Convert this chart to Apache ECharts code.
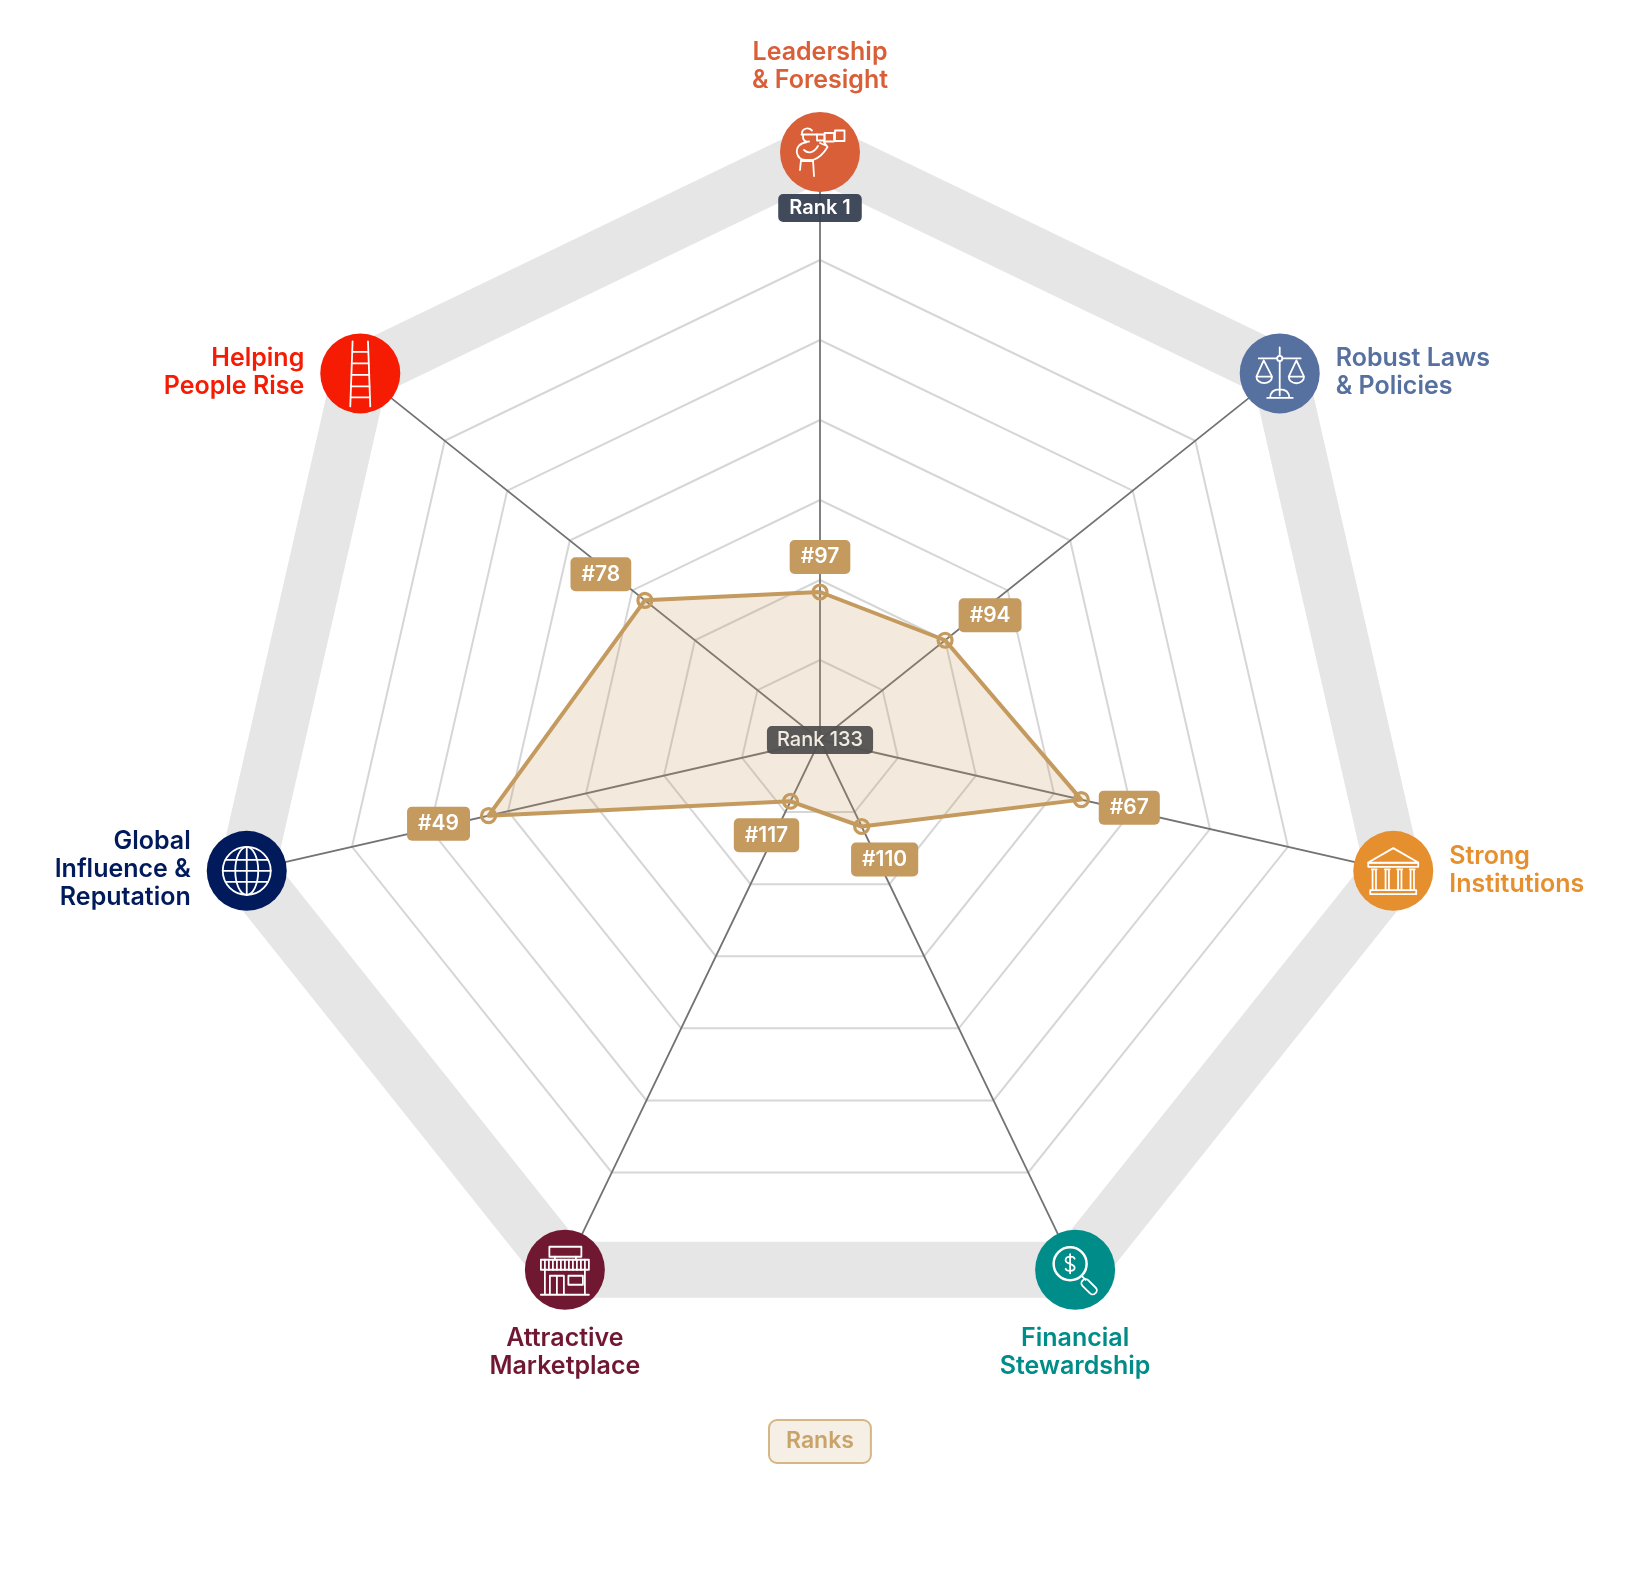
<!DOCTYPE html>
<html>
<head>
<meta charset="utf-8">
<style>html,body{margin:0;padding:0;background:#fff}#chart{width:1641px;height:1580px}</style>
<script src="https://cdn.jsdelivr.net/npm/echarts@6/dist/echarts.min.js"></script>
</head>
<body>
<div id="chart"></div>
<script>
// ---- data ----
const categories = ['Leadership\n& Foresight','Robust Laws\n& Policies','Strong\nInstitutions','Financial\nStewardship','Attractive\nMarketplace','Global\nInfluence &\nReputation','Helping\nPeople Rise'];
const ranks = [97, 94, 67, 110, 117, 49, 78];
const seriesName = 'Ranks';
const bestRank = 1;
const worstRank = 133;
// ---- scale: plotted value = rankOrigin - rank (rank 133 sits next to the centre) ----
const rankOrigin = 134;
const gridMax = 140;
const gridSplits = 7;
const ringValue = 147;
// ---- styles ----
const FONT = 'Inter';
const TAN = '#c49a5e';
const colors = ['#d95f38','#56709f','#e68f2e','#008c88','#701831','#001a5c','#f61c04'];
const nameSides = ['top','right','right','bottom','bottom','left','left'];
const nameDistances = [18,16,16,15,15,16,16];
const nameOffsets = [[0,0],[0,-1],[0,0],[0,0],[0,0],[0,-1],[0,-1]];
const badgeOffsets = [[0,-35],[45,-25],[48,8],[23,33],[-24,34],[-50,8],[-44,-26]];

const S = 'fill="none" stroke="#fff" stroke-width="1.8" stroke-linejoin="round" stroke-linecap="round"';
const iconBodies = [
 // telescope
 '<rect x="55" y="18.5" width="9.5" height="10.5"/><rect x="44.5" y="21" width="9.5" height="8.5"/><rect x="37" y="22.5" width="7.5" height="6"/><path d="M22 21C22 17 28 14.5 32 18.5M21.5 22.5H37M23 23C22.5 28 25 30 29 29.5M27 30C20 31 16 35 17 41C18 46 22 48 26 48H33C39 46 44 41 47.5 35L44 30M24 38C28 42 34 41 38 34M40 31L47 34M21 48L20 58M21 49H33M33 48L34 64"/>',
 // scales
 '<path d="M19 25H61M40 14V62M24 27L16.7 43.3H32.3ZM56.7 27L49 43.3H64.3ZM16.7 43.3A7.8 6.5 0 0 0 32.3 43.3M49 43.3A7.6 6.5 0 0 0 64.3 43.3M27.5 64.5H53M30.5 64.5C30.5 58 35 56 40 56C45 56 49.5 58 49.5 64.5"/><circle cx="40" cy="25" r="2.6" fill="#56709f"/>',
 // institution
 '<path d="M15 31.7L40 17.3L65 31.7Z"/><rect x="15" y="32" width="50" height="4"/><path d="M18.5 38.5H23.5M31.5 38.5H36.5M44 38.5H49M56.5 38.5H61.5"/><path d="M19.3 39V59M22.7 39V59M32.3 39V59M35.7 39V59M44.8 39V59M48.2 39V59M57.3 39V59M60.7 39V59"/><rect x="17" y="59.3" width="46" height="4"/>',
 // magnifier
 '<circle cx="35" cy="34" r="16.5" stroke-width="2.5"/><path d="M39.5 29C38.5 26 30.5 26 30.5 30.5C30.5 35 39.5 33 39.5 38C39.5 42 31.5 42 30.5 39M35 24.5V43.5M47 46.5L50.5 50"/><rect x="50" y="48" width="8" height="18" rx="3.6" transform="rotate(-45 54 57)"/>',
 // store
 '<rect x="24.5" y="17" width="32" height="10"/><path d="M30 27V30M51 27V30"/><rect x="16" y="30" width="48" height="10"/><path d="M20 30V40M24 30V40M28 30V40M32 30V40M36 30V40M40 30V40M44 30V40M48 30V40M52 30V40M56 30V40M60 30V40M20 40V65M60 40V65M16 65H64M25 65V46H39V65M32 46V65M43.5 46H58V55H43.5Z"/>',
 // globe
 '<circle cx="40" cy="40" r="24"/><ellipse cx="40" cy="40" rx="11.5" ry="24"/><path d="M40 16V64M16 40H64M18.7 29H61.3M18.7 51H61.3"/>',
 // ladder
 '<path d="M32.3 8L30 73M47.7 8L50 73M31.8 18.5H48.2M31.3 30H48.7M30.9 41.5H49.1M30.5 53H49.5M30.2 64H49.8"/>'
];
const iconImages = iconBodies.map(function (b) {
  return 'image://data:image/svg+xml;charset=utf-8,' + encodeURIComponent(
    '<svg xmlns="http://www.w3.org/2000/svg" width="160" height="160" viewBox="0 0 80 80"><g ' + S + '>' + b + '</g></svg>');
});

const toValue = function (rank) { return rankOrigin - rank; };
// ECharts' radar runs counter-clockwise, the picture runs clockwise from the top
const radarOrder = categories.map(function (_, i) { return (categories.length - i) % categories.length; });
const chart = echarts.init(document.getElementById('chart'), null, {renderer: 'canvas'});

const ringColors = [];
for (let i = 0; i <= gridSplits; i++) ringColors.push(i === gridSplits ? 'rgba(0,0,0,0)' : '#d6d6d6');

chart.setOption({
  animation: false,
  backgroundColor: '#fff',
  textStyle: {fontFamily: FONT},
  legend: {
    data: [seriesName], left: 769, top: 1420, icon: 'none', itemWidth: 0, itemHeight: 0,
    selectedMode: false, padding: [10, 17, 10, 12],
    backgroundColor: '#f6efe5', borderColor: '#d6b684', borderWidth: 2, borderRadius: 8,
    textStyle: {color: '#c8a36a', fontSize: 23, fontWeight: 600, fontFamily: FONT}
  },
  radar: [
    { // outer grey band
      center: [820, 740], radius: 588, startAngle: 90,
      splitNumber: 1,
      indicator: radarOrder.map(function () { return {name: '', min: 0, max: ringValue}; }),
      axisName: {show: false}, axisLine: {show: false}, axisTick: {show: false}, axisLabel: {show: false},
      splitArea: {show: false},
      splitLine: {show: true, lineStyle: {color: ['rgba(0,0,0,0)', '#e6e6e6'], width: 56, join: 'miter'}}
    },
    { // rank grid
      center: [820, 740], radius: 560, startAngle: 90,
      splitNumber: gridSplits,
      indicator: radarOrder.map(function (i) { return {name: categories[i], min: 0, max: gridMax}; }),
      axisName: {show: false},
      axisLine: {show: true, lineStyle: {color: '#737373', width: 1.8}},
      axisTick: {show: false}, axisLabel: {show: false},
      splitLine: {show: true, lineStyle: {color: ringColors, width: 2}},
      splitArea: {show: false}
    }
  ],
  polar: {center: [820, 740], radius: 588},
  radiusAxis: {type: 'value', min: 0, max: ringValue, show: false},
  angleAxis: {type: 'category', data: categories, boundaryGap: false, startAngle: 90, clockwise: true, show: false},
  series: [
    {
      name: seriesName, type: 'radar', radarIndex: 1, z: 3,
      symbol: 'circle', symbolSize: 14,
      lineStyle: {color: TAN, width: 4},
      areaStyle: {color: 'rgba(196,154,94,0.21)', opacity: 1},
      itemStyle: {color: 'rgba(196,154,94,0.12)', borderColor: TAN, borderWidth: 3.2},
      data: [{name: seriesName, value: radarOrder.map(function (i) { return toValue(ranks[i]); })}]
    },
    { // scale end labels
      name: 'Scale', type: 'scatter', coordinateSystem: 'polar', z: 4, silent: true, clip: false,
      symbol: 'circle', symbolSize: 1, itemStyle: {color: 'rgba(0,0,0,0)', opacity: 1},
      data: [
        {value: [toValue(bestRank), categories[0]], label: {show: true, position: 'inside', formatter: 'Rank ' + bestRank, opacity: 1,
          backgroundColor: 'rgba(53,63,80,0.94)', color: '#fff', fontSize: 20, fontWeight: 600, padding: [4, 11], borderRadius: 5, lineHeight: 20}},
        {value: [toValue(worstRank), categories[0]], label: {show: true, position: 'inside', offset: [0, 4], formatter: 'Rank ' + worstRank, opacity: 1,
          backgroundColor: 'rgba(80,80,80,0.94)', color: '#f2ece2', fontSize: 20, fontWeight: 500, padding: [4, 10], borderRadius: 5, lineHeight: 20}}
      ]
    },
    { // coloured discs and dimension names
      name: 'Dimensions', type: 'scatter', coordinateSystem: 'polar', z: 5, silent: true, clip: false,
      symbol: 'circle', symbolSize: 80,
      data: categories.map(function (c, i) {
        return {
          value: [ringValue, c], itemStyle: {color: colors[i], opacity: 1},
          label: {show: true, formatter: c, position: nameSides[i], distance: nameDistances[i], offset: nameOffsets[i], opacity: 1,
            color: colors[i], fontSize: 25, fontWeight: 600, lineHeight: 28}
        };
      })
    },
    { // white line icons
      name: 'Icons', type: 'scatter', coordinateSystem: 'polar', z: 6, silent: true, clip: false,
      symbolSize: 80, itemStyle: {opacity: 1},
      data: categories.map(function (c, i) { return {value: [ringValue, c], symbol: iconImages[i]}; })
    },
    { // rank badges
      name: 'Badges', type: 'scatter', coordinateSystem: 'polar', z: 7, silent: true, clip: false,
      symbol: 'circle', symbolSize: 1, itemStyle: {color: 'rgba(0,0,0,0)', opacity: 1},
      data: categories.map(function (c, i) {
        return {
          value: [toValue(ranks[i]), c],
          label: {show: true, position: 'inside', offset: badgeOffsets[i], formatter: '#' + ranks[i], opacity: 1,
            backgroundColor: TAN, color: '#fff', fontSize: 21, fontWeight: 600, padding: [6, 11], borderRadius: 5, lineHeight: 22}
        };
      })
    }
  ]
});
</script>
</body>
</html>
